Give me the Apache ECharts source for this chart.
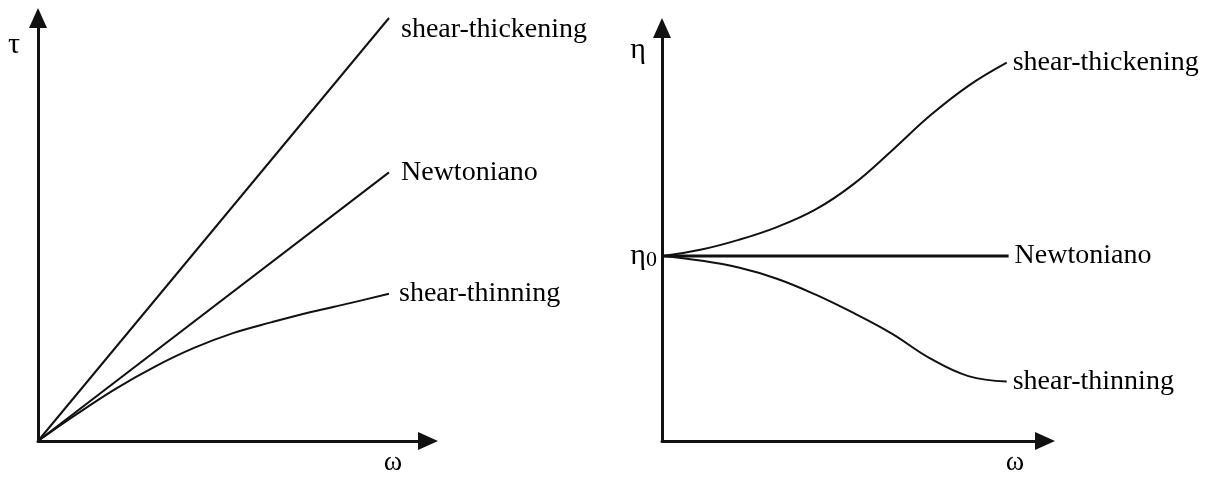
<!DOCTYPE html>
<html>
<head>
<meta charset="utf-8">
<script src="https://cdn.jsdelivr.net/npm/echarts@6/dist/echarts.min.js"></script>
<title>shear rheology</title>
</head>
<body style="margin:0;background:#fff">
<div id="main" style="width:1232px;height:477px"></div>
<script>
// left panel: tau vs omega
var leftThickening = [[0, 0], [9, 10]];
var leftNewtonian = [[0, 0], [9, 6.35]];
var leftThinning = [[0, 0], [1, 0.64], [2, 1.24], [3, 1.76], [4, 2.2], [5, 2.55], [6, 2.81], [7, 3.05], [8, 3.26], [9, 3.48]];

// right panel: eta vs omega
var eta0 = 4.48;
var rightThickening = [[0, 4.48], [1, 4.63], [2, 4.87], [3, 5.18], [4, 5.6], [5, 6.22], [6, 7.03], [7, 7.88], [8, 8.6], [9, 9.16]];
var rightNewtonian = [[0, 4.48], [9.05, 4.48]];
var rightThinning = [[0, 4.48], [1, 4.37], [2, 4.2], [3, 3.93], [4, 3.55], [5, 3.1], [6, 2.6], [7, 2.0], [8, 1.57], [9, 1.44]];

var serif = 'Liberation Serif';
var ink = '#111';

function axisLine() {
    return {
        show: true,
        onZero: false,
        symbol: ['none', 'triangle'],
        symbolSize: [18, 20],
        lineStyle: { color: ink, width: 3 }
    };
}

function curve(name, data, xi, lw, labelOpt) {
    return {
        name: name,
        type: 'line',
        xAxisIndex: xi,
        yAxisIndex: xi,
        data: data,
        smooth: data.length > 2 ? 0.4 : false,
        symbol: 'none',
        clip: false,
        lineStyle: { color: ink, width: lw },
        endLabel: Object.assign({
            show: true,
            formatter: '{a}',
            color: '#000',
            fontFamily: serif,
            fontSize: 28
        }, labelOpt)
    };
}

var myChart = echarts.init(document.getElementById('main'));
var option = {
    backgroundColor: '#fff',
    animation: false,
    grid: [
        { left: 38, right: 804, top: 18, bottom: 36 },
        { left: 662, right: 187, top: 28, bottom: 32 }
    ],
    xAxis: [
        {
            type: 'value', gridIndex: 0, min: 0, max: 10,
            axisLine: axisLine(), axisTick: { show: false }, axisLabel: { show: false }, splitLine: { show: false },
            name: 'ω', nameLocation: 'end', nameGap: -35,
            nameTextStyle: { fontFamily: serif, fontSize: 28, color: '#000', align: 'center', verticalAlign: 'top', padding: [8, 0, 0, 0] }
        },
        {
            type: 'value', gridIndex: 1, min: 0, max: 10,
            axisLine: axisLine(), axisTick: { show: false }, axisLabel: { show: false }, splitLine: { show: false },
            name: 'ω', nameLocation: 'end', nameGap: -30,
            nameTextStyle: { fontFamily: serif, fontSize: 28, color: '#000', align: 'center', verticalAlign: 'top', padding: [8, 0, 0, 0] }
        }
    ],
    yAxis: [
        {
            type: 'value', gridIndex: 0, min: 0, max: 10,
            axisLine: axisLine(), axisTick: { show: false }, axisLabel: { show: false }, splitLine: { show: false },
            name: 'τ', nameLocation: 'end', nameGap: -27,
            nameTextStyle: { fontFamily: serif, fontSize: 30, color: '#000', align: 'right', verticalAlign: 'middle', padding: [0, 18, 0, 0] }
        },
        {
            type: 'value', gridIndex: 1, min: 0, max: 10,
            axisLine: axisLine(), axisTick: { show: false }, splitLine: { show: false },
            axisLabel: {
                show: true, customValues: [eta0], margin: 5,
                formatter: function () { return '{e|η}{s|0}'; },
                rich: {
                    e: { fontFamily: serif, fontSize: 30, color: '#000' },
                    s: { fontFamily: serif, fontSize: 22, color: '#000', padding: [8, 0, 0, 0] }
                }
            },
            name: 'η', nameLocation: 'end', nameGap: -22,
            nameTextStyle: { fontFamily: serif, fontSize: 30, color: '#000', align: 'right', verticalAlign: 'middle', padding: [0, 16, 0, 0] }
        }
    ],
    series: [
        curve('shear-thickening', leftThickening, 0, 2, { distance: 12, offset: [0, 12] }),
        curve('Newtoniano', leftNewtonian, 0, 2, { distance: 12 }),
        curve('shear-thinning', leftThinning, 0, 2, { distance: 10 }),
        curve('shear-thickening', rightThickening, 1, 2, { distance: 6 }),
        curve('Newtoniano', rightNewtonian, 1, 3, { distance: 6 }),
        curve('shear-thinning', rightThinning, 1, 2, { distance: 6 })
    ]
};
myChart.setOption(option);
</script>
</body>
</html>
